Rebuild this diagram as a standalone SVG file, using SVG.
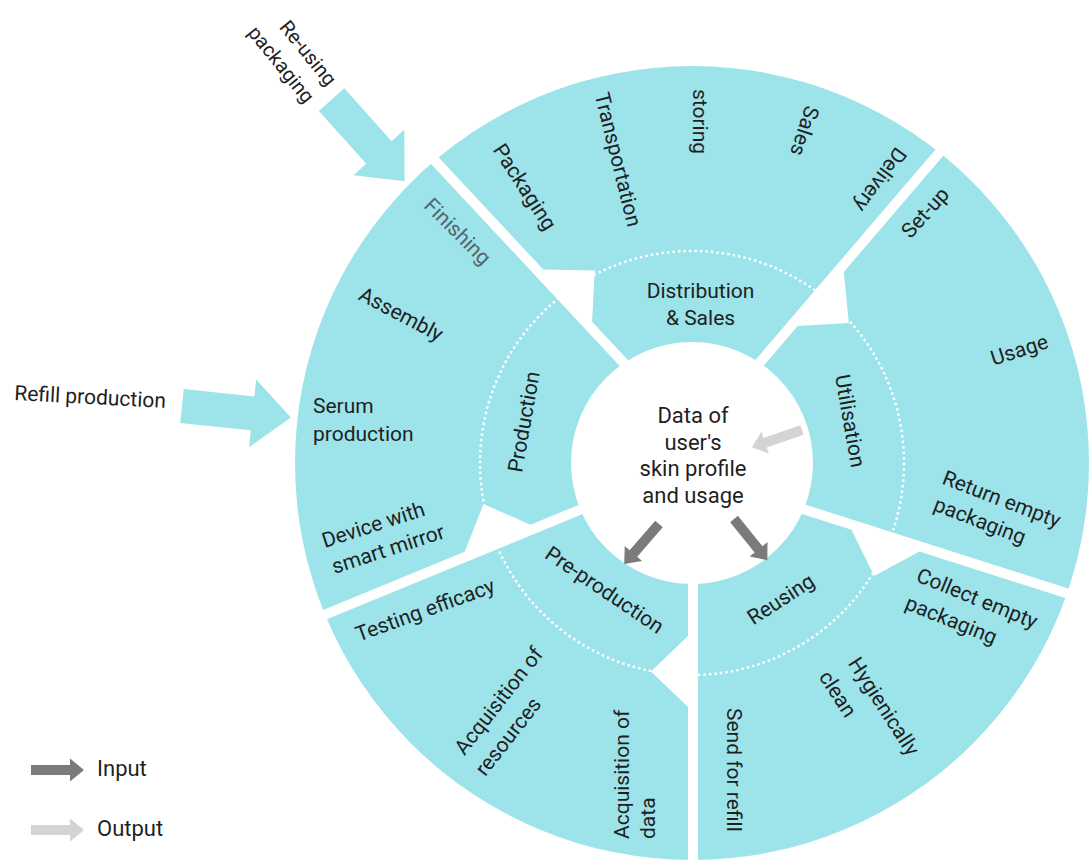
<svg xmlns="http://www.w3.org/2000/svg" xmlns:xlink="http://www.w3.org/1999/xlink" width="1090" height="862" viewBox="0 0 1090 862">
<style>
.seg{fill:#9ce3ea}
.big{fill:#9ce3ea}
.dots{fill:none;stroke:#fff;stroke-width:2.5;stroke-dasharray:2.5 3}
text{font-family:Roboto,"Liberation Sans",Arial,sans-serif;fill:#1f1f1f;font-size:21px}
.mid{text-anchor:middle}
.ctr{font-size:22px;text-anchor:middle}
.fin{fill:#56656a}
.leg{font-size:22px}
.in{fill:#7b7b7b}
.out{fill:#d4d4d4}
</style>
<defs>
<clipPath id="ring"><path clip-rule="evenodd" d="M1089,463A397,397 0 1,0 295,463A397,397 0 1,0 1089,463ZM813,463A121,121 0 1,0 571,463A121,121 0 1,0 813,463Z"/></clipPath>
<clipPath id="c-dist"><path d="M734.9,384L983,93.9L678,-337L388.7,104L543.3,269.5L594.8,270.4L592.1,321.8L649.9,383.6Z"/></clipPath>
<clipPath id="c-util"><path d="M775.9,495.2L1138.2,610.8L1461,242.5L990.8,100.2L843.8,272L848.8,323.1L797.6,326L743.5,389.4Z"/></clipPath>
<clipPath id="c-reus"><path d="M698,552.8L698,933L1150.9,1118.3L1134.9,620.2L919.4,551.5L874.2,575.9L851.5,529.8L771.8,504.4Z"/></clipPath>
<clipPath id="c-pre"><path d="M610.8,502.5L259.5,647L244.6,1126.2L688,933L688,707L651,671.5L688,636L688,552.9Z"/></clipPath>
<clipPath id="c-prod"><path d="M641.2,388.9L381.1,110.5L-84.2,269.5L255.7,637.7L464.7,551.8L483.5,504L530.4,524.8L607.1,493.2Z"/></clipPath>
<path id="arrow" d="M0,-5H39V-11.5L53,0L39,11.5V5H0Z"/>
<path id="bigArrow" d="M0,-17H71V-34L109.5,0L71,34V17H0Z"/>
</defs>
<rect width="1090" height="862" fill="#fff"/>

<g id="distribution">
<path class="seg" clip-path="url(#ring)" d="M734.9,384L983,93.9L678,-337L388.7,104L543.3,269.5L594.8,270.4L592.1,321.8L649.9,383.6Z"/>
<circle class="dots" cx="692" cy="463" r="212" clip-path="url(#c-dist)"/>
<text class="mid"><tspan x="700.5" y="298">Distribution</tspan><tspan x="700.5" y="325">&amp; Sales</tspan></text>
<text class="mid" transform="translate(523,188) rotate(57)" y="5">Packaging</text>
<text class="mid" transform="translate(616,160) rotate(76)" y="5">Transportation</text>
<text class="mid" transform="translate(698,121.5) rotate(90)" y="5">storing</text>
<text class="mid" transform="translate(804.5,131) rotate(108)" y="7">Sales</text>
<text class="mid" transform="translate(878.5,178.5) rotate(126)" y="5">Delivery</text>
</g>

<g id="utilisation">
<path class="seg" clip-path="url(#ring)" d="M775.9,495.2L1138.2,610.8L1461,242.5L990.8,100.2L843.8,272L848.8,323.1L797.6,326L743.5,389.4Z"/>
<circle class="dots" cx="692" cy="463" r="212" clip-path="url(#c-util)"/>
<text class="mid" transform="translate(850,421) rotate(80)" y="7">Utilisation</text>
<text class="mid" transform="translate(926.7,214) rotate(-48)" y="5">Set-up</text>
<text class="mid" transform="translate(1020,352) rotate(-18)" y="5">Usage</text>
<text class="mid" transform="translate(990.4,511) rotate(21)"><tspan x="6.3" y="-8">Return empty</tspan><tspan x="-6.3" y="20">packaging</tspan></text>
</g>

<g id="reusing">
<path class="seg" clip-path="url(#ring)" d="M698,552.8L698,933L1150.9,1118.3L1134.9,620.2L919.4,551.5L874.2,575.9L851.5,529.8L771.8,504.4Z"/>
<circle class="dots" cx="692" cy="463" r="212" clip-path="url(#c-reus)"/>
<text class="mid" transform="translate(782,601) rotate(-33)" y="5">Reusing</text>
<text class="mid" transform="translate(963.8,610.2) rotate(22)"><tspan x="8" y="-8.9">Collect empty</tspan><tspan x="-8" y="20.9">packaging</tspan></text>
<text class="mid" transform="translate(860,700.8) rotate(57)"><tspan x="17.8" y="-9.9">Hygienically</tspan><tspan x="-17.8" y="21.9">clean</tspan></text>
<text transform="translate(727,708) rotate(90)">Send for refill</text>
</g>

<g id="pre-production">
<path class="seg" clip-path="url(#ring)" d="M610.8,502.5L259.5,647L244.6,1126.2L688,933L688,707L651,671.5L688,636L688,552.9Z"/>
<circle class="dots" cx="692" cy="463" r="212" clip-path="url(#c-pre)"/>
<text class="mid" transform="translate(603.3,591.7) rotate(34)" y="5">Pre-production</text>
<text class="mid" transform="translate(425.8,612) rotate(-20)" y="5">Testing efficacy</text>
<text class="mid" transform="translate(504.3,719.3) rotate(-52)"><tspan x="11.1" y="-8.7">Acquisition of</tspan><tspan x="-11.1" y="20.7">resources</tspan></text>
<text transform="translate(629,839) rotate(-90)"><tspan x="0" y="0">Acquisition of</tspan><tspan x="0" y="26">data</tspan></text>
</g>

<g id="production">
<path class="seg" clip-path="url(#ring)" d="M641.2,388.9L381.1,110.5L-84.2,269.5L255.7,637.7L464.7,551.8L483.5,504L530.4,524.8L607.1,493.2Z"/>
<circle class="dots" cx="692" cy="463" r="212" clip-path="url(#c-prod)"/>
<text class="mid" transform="translate(525,422) rotate(-80)" y="6">Production</text>
<text class="mid fin" transform="translate(456,233) rotate(45)" y="5">Finishing</text>
<text class="mid" transform="translate(400,316) rotate(28)" y="5">Assembly</text>
<text><tspan x="313" y="413">Serum</tspan><tspan x="313" y="441">production</tspan></text>
<text class="mid" transform="translate(381,538) rotate(-18)"><tspan x="-3.3" y="-7.8">Device with</tspan><tspan x="3.3" y="19.8">smart mirror</tspan></text>
</g>

<g id="data-core">
<text class="ctr"><tspan x="693" y="423">Data of</tspan><tspan x="693" y="449.5">user's</tspan><tspan x="693" y="476">skin profile</tspan><tspan x="693" y="502.5">and usage</tspan></text>
</g>

<g id="refill-production">
<use xlink:href="#bigArrow" class="big" transform="translate(182,406) rotate(6)"/>
<text transform="translate(14,400) rotate(3)">Refill production</text>
</g>

<g id="reusing-packaging">
<use xlink:href="#bigArrow" class="big" transform="translate(331.6,99.6) rotate(48.2)"/>
<text class="mid" style="font-size:20px" transform="translate(294,59.3) rotate(51)"><tspan x="4" y="-8">Re-using</tspan><tspan x="-4" y="20">packaging</tspan></text>
</g>

<g id="connectors">
<use xlink:href="#arrow" class="in" transform="translate(659,524) rotate(131)"/>
<use xlink:href="#arrow" class="in" transform="translate(734,519) rotate(51)"/>
<use xlink:href="#arrow" class="out" transform="translate(802,430) rotate(161)"/>
</g>

<g id="legend">
<use xlink:href="#arrow" class="in" transform="translate(31,770)"/>
<text class="leg" x="97" y="776">Input</text>
<use xlink:href="#arrow" class="out" transform="translate(31,830)"/>
<text class="leg" x="97" y="836">Output</text>
</g>
</svg>
